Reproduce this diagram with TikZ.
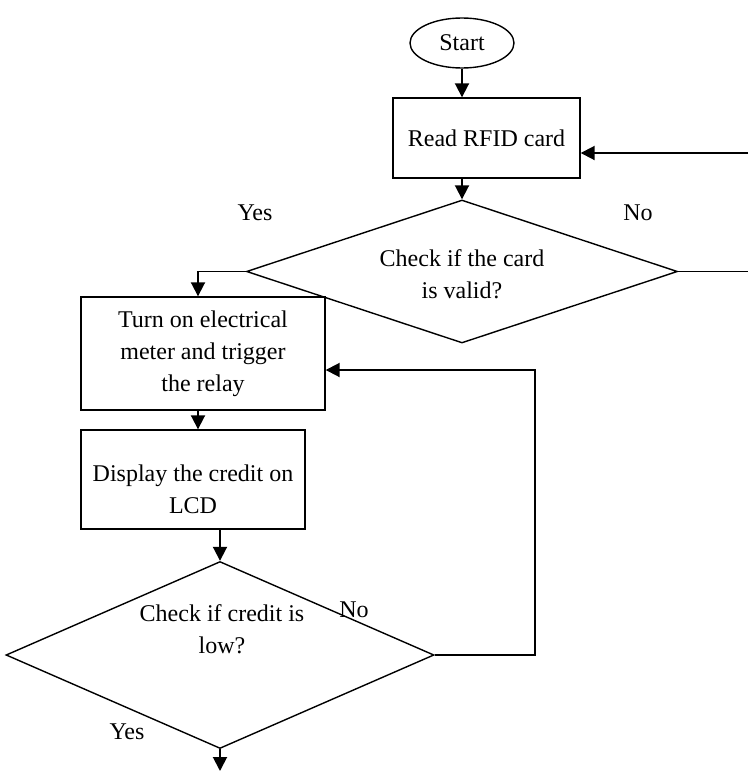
\documentclass[tikz,border=0pt]{standalone}
\usepackage{fontspec}
\setmainfont{Liberation Serif}
\usetikzlibrary{shapes.geometric,arrows.meta,calc}
\begin{document}
\begin{tikzpicture}[x=1pt,y=-1pt,
  every node/.style={font=\fontsize{24}{32}\selectfont},
  box/.style={draw,line width=1.4pt,inner sep=0pt,align=center},
  dec/.style={draw,diamond,line width=1.4pt,inner sep=0pt,align=center,aspect=3},
  term/.style={draw,ellipse,line width=1.4pt,inner sep=0pt},
  conn/.style={line width=1.9pt},
  arr/.style={conn,-{Triangle[width=14pt,length=14pt]}},
  lbl/.style={inner sep=0pt,align=center}]
\useasboundingbox (0,0) rectangle (748,771);
% nodes
\node[term,minimum width=104pt,minimum height=50pt] (start) at (462,43) {Start};
\node[box,minimum width=187pt,minimum height=80pt] (r1) at (486.5,138) {Read RFID card};
\node[dec,minimum width=431pt,minimum height=143pt] (d1) at (462,271.5) {};
\node[lbl] (d1t) at (462,274) {Check if the card\\is valid?};
\node[box,minimum width=244pt,minimum height=113pt] (r2) at (203,353.5) {Turn on electrical\\meter and trigger\\the relay};
\node[box,minimum width=224pt,minimum height=99pt] (r3) at (193,479.5) {};
\node[lbl] (r3t) at (193,489) {Display the credit on\\LCD};
\node[dec,minimum width=428pt,minimum height=187pt,aspect=2.3] (d2) at (220,655) {};
\node[lbl] (d2t) at (222,629) {Check if credit is\\low?};
% labels
\node[lbl] (yes1) at (255,213) {Yes};
\node[lbl] (no1) at (638,213) {No};
\node[lbl] (no2) at (354,610) {No};
\node[lbl] (yes2) at (127,732) {Yes};
% helper coordinates
\coordinate (e1) at (748,153);
\coordinate (e2) at (748,271.5);
\coordinate (c1) at (198,0);
\coordinate (lp) at (535,370);
\coordinate (bt) at (0,771);
% connectors
\draw[arr] (start.south) -- (start.south |- r1.north);
\draw[arr] (r1.south -| start.south) -- (d1.north);
\draw[arr] (e1) -- (e1 -| r1.east);
\draw[conn] (d1.east) -- (e2);
\draw[arr] (d1.west) -| (c1 |- r2.north);
\draw[arr] (c1 |- r2.south) -- (c1 |- r3.north);
\draw[arr] (r3.south -| d2.north) -- (d2.north);
\draw[arr] (d2.east) -| (lp) -- (lp -| r2.east);
\draw[arr] (d2.south) -- (d2.south |- bt);
\end{tikzpicture}
\end{document}
